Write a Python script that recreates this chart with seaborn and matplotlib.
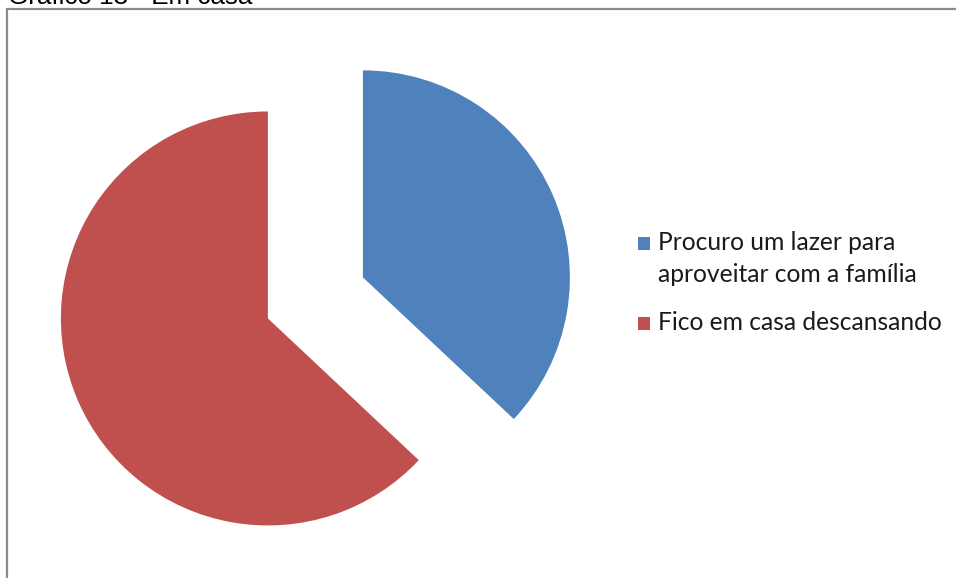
import matplotlib
matplotlib.use("Agg")
import matplotlib.pyplot as plt
from matplotlib.patches import Rectangle
import seaborn as sns

sns.set_theme(style="white")

# Survey answers: what respondents do at home
categories = ["Procuro um lazer para\naproveitar com a família", "Fico em casa descansando"]
shares = [37, 63]
colors = ["#4F81BD", "#C0504D"]
title = "Gráfico 13 - Em casa"

W, H = 956, 578
fig = plt.figure(figsize=(W / 100, H / 100), dpi=100)
fig.patch.set_facecolor("white")


def fx(px):
    return px / W


def fy(py):
    return 1 - py / H


# Axes spanning the figure; 1 data unit = radius in pixels
R = 207.0
cx, cy = 315.4, 297.9
ax = fig.add_axes([0, 0, 1, 1])
ax.set_xlim(-cx / R, (W - cx) / R)
ax.set_ylim((cy - H) / R, cy / R)
ax.set_aspect("auto")
ax.axis("off")

ax.pie(shares, colors=colors, startangle=90, counterclock=False,
       explode=[0.25, 0.25], radius=1.0, center=(0, 0),
       wedgeprops=dict(linewidth=0, antialiased=True), frame=False)
ax.set_xlim(-cx / R, (W - cx) / R)
ax.set_ylim((cy - H) / R, cy / R)

# Chart border (runs off the right and bottom edges)
fig.patches.append(Rectangle((fx(7), fy(H + 10)), fx(W + 20), (H + 10 - 9) / H,
                             transform=fig.transFigure, fill=False,
                             edgecolor="#8c8c8c", linewidth=1.6, zorder=5))

# Title, mostly above the canvas
fig.text(fx(8), fy(4.5), title, fontsize=26 * 0.72, family="Liberation Sans",
         color="black", va="baseline", ha="left")

# Legend
leg_font = "Lato"
leg_size = 21 * 0.72
renderer = fig.canvas.get_renderer()
probe = fig.text(0, 0, categories[1], fontsize=leg_size, family=leg_font)
w = probe.get_window_extent(renderer).width
probe.remove()
leg_size *= 283.0 / w

fig.patches.append(Rectangle((fx(637.5), fy(249.5)), 12.5 / W, 12.5 / H,
                             transform=fig.transFigure, facecolor=colors[0],
                             edgecolor="none"))
lines = categories[0].split("\n")
fig.text(fx(658), fy(249.5), lines[0], fontsize=leg_size, family=leg_font,
         color="#1a1a1a", va="baseline", ha="left")
fig.text(fx(658), fy(281.5), lines[1], fontsize=leg_size, family=leg_font,
         color="#1a1a1a", va="baseline", ha="left")

fig.patches.append(Rectangle((fx(637.5), fy(329.5)), 12.5 / W, 12.5 / H,
                             transform=fig.transFigure, facecolor=colors[1],
                             edgecolor="none"))
fig.text(fx(658), fy(329.5), categories[1], fontsize=leg_size, family=leg_font,
         color="#1a1a1a", va="baseline", ha="left")

fig.savefig("out.png", dpi=100, facecolor="white")
